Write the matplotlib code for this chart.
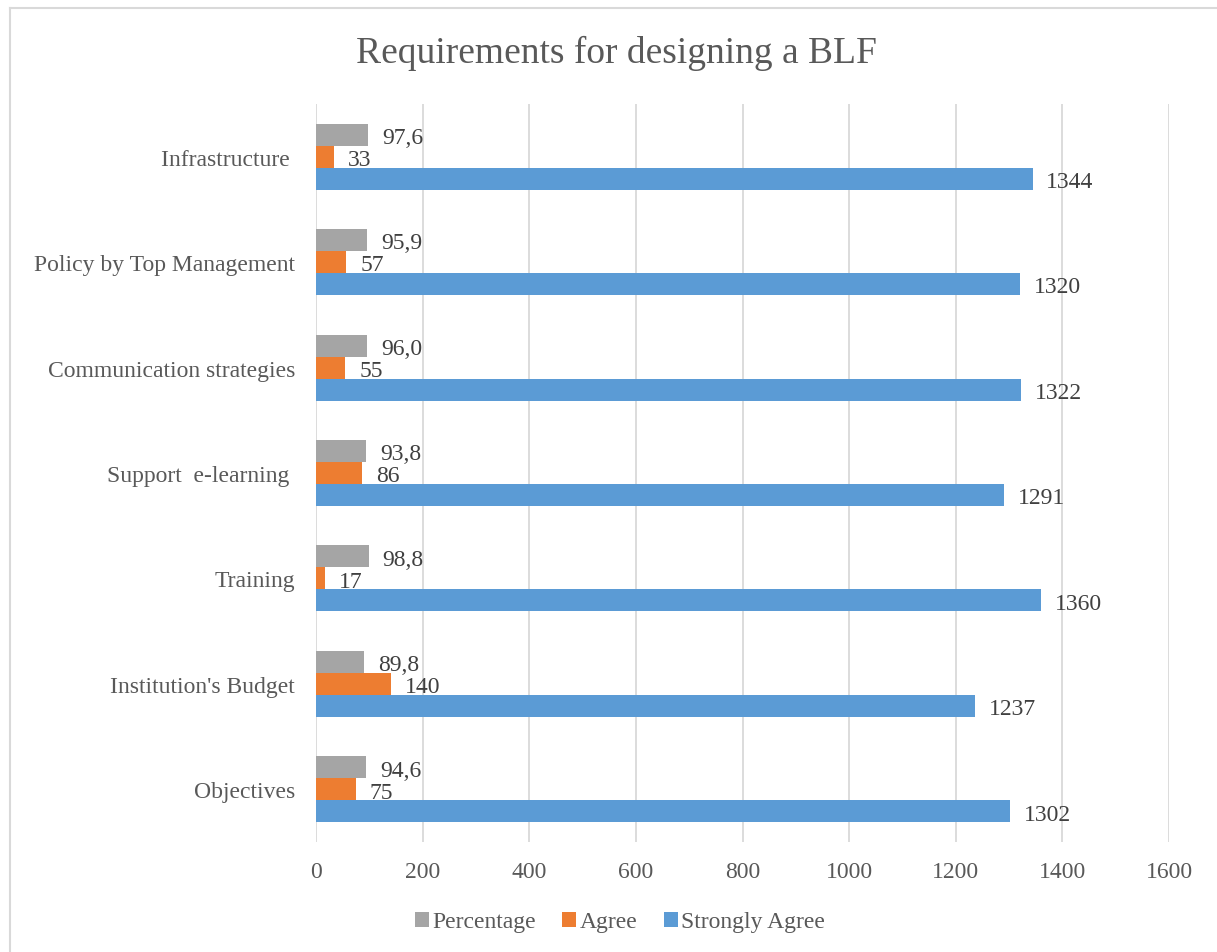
import matplotlib.pyplot as plt
import numpy as np

categories = ["Objectives", "Institution's Budget", "Training", "Support  e-learning ",
              "Communication strategies", "Policy by Top Management", "Infrastructure "]
strongly_agree = [1302, 1237, 1360, 1291, 1322, 1320, 1344]
agree = [75, 140, 17, 86, 55, 57, 33]
percentage = [94.6, 89.8, 98.8, 93.8, 96.0, 95.9, 97.6]

plt.rcParams['font.family'] = ['Liberation Serif', 'DejaVu Serif']
txt = '#595959'

fig = plt.figure(figsize=(12.17, 9.53), dpi=100)
ax = fig.add_axes([316/1217, 1-843/953, (1169-316)/1217, (843-105)/953])

y = np.arange(len(categories))
h = 0.209
b1 = ax.barh(y - h, strongly_agree, height=h, color='#5B9BD5', label='Strongly Agree')
b2 = ax.barh(y, agree, height=h, color='#ED7D31', label='Agree')
b3 = ax.barh(y + h, percentage, height=h, color='#A5A5A5', label='Percentage')

for bars, vals, fmt in [(b1, strongly_agree, '{:d}'), (b2, agree, '{:d}'), (b3, percentage, '{:.1f}')]:
    for bar, v in zip(bars, vals):
        s = fmt.format(v).replace('.', ',')
        ax.annotate(s, (bar.get_width(), bar.get_y() + bar.get_height()/2),
                    xytext=(10, -2), textcoords='offset points',
                    ha='left', va='center', fontsize=17, color='#404040')

ax.set_xlim(0, 1600)
ax.set_ylim(-0.5, len(categories) - 0.5)
ax.set_xticks(range(0, 1601, 200))
ax.set_yticks(y)
ax.set_yticklabels(categories)
ax.tick_params(axis='both', length=0, labelsize=17, labelcolor=txt)
ax.tick_params(axis='y', pad=15)
ax.tick_params(axis='x', pad=14)
for sp in ax.spines.values():
    sp.set_visible(False)
ax.grid(axis='x', color='#D9D9D9', linewidth=1.3)
ax.set_axisbelow(True)

fig.text(616/1217, 1-53/953, 'Requirements for designing a BLF', ha='center', va='center',
         fontsize=27, color=txt)

handles = [b3, b2, b1]
fig.legend(handles, [hd.get_label() for hd in handles], loc='center', bbox_to_anchor=(620/1217, 1-923/953),
           ncol=3, frameon=False, fontsize=17, handlelength=0.6, handleheight=0.6,
           handletextpad=0.15, columnspacing=1.1, labelcolor=txt)

# chart border (left and top edges visible)
fig.add_artist(plt.Line2D([10/1217, 10/1217], [0, 1-9/953], color='#D9D9D9', lw=1.5))
fig.add_artist(plt.Line2D([10/1217, 1], [1-9/953, 1-9/953], color='#D9D9D9', lw=1.5))

fig.savefig('out.png', dpi=100)
